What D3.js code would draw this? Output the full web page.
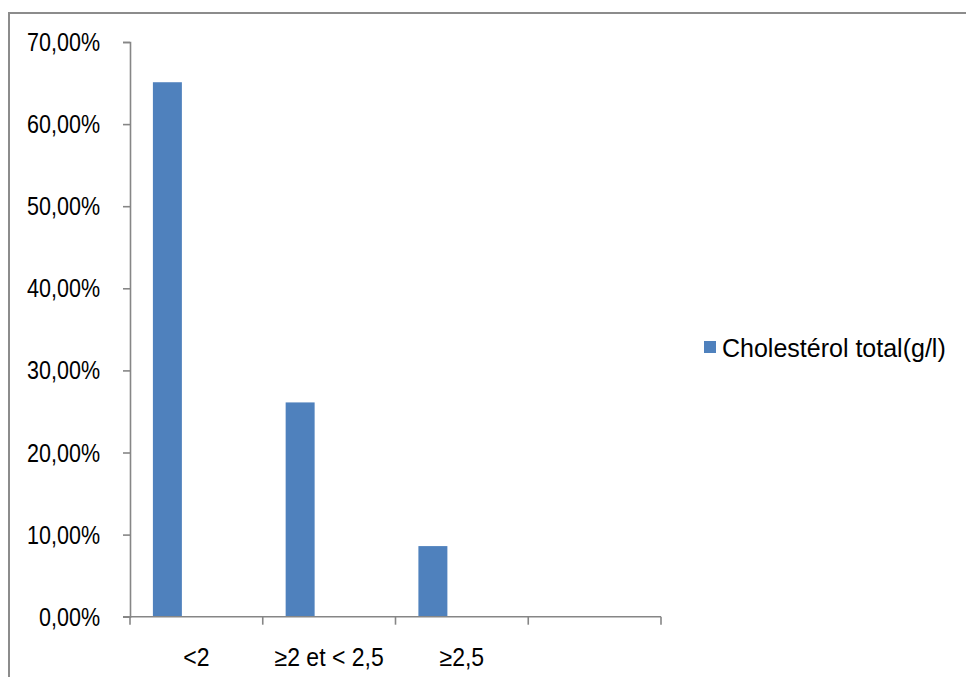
<!DOCTYPE html>
<html>
<head>
<meta charset="utf-8">
<script src="https://cdn.jsdelivr.net/npm/d3@7"></script>
<style>
  html, body { margin: 0; padding: 0; background: #fff; }
  svg { display: block; }
  text { font-family: "Liberation Sans", Arial, sans-serif; fill: #000; }
</style>
</head>
<body>
<svg id="chart" width="966" height="677"></svg>
<script>
// Distribution of total cholesterol (g/l), share of patients per class
const categories = ["<2", "≥2 et < 2,5", "≥2,5", ""];
const seriesName = "Cholestérol total(g/l)";
const values = [65.1, 26.1, 8.6, null];
const yTicks = [0, 10, 20, 30, 40, 50, 60, 70];
const seriesSlots = ["s1", "s2", "s3"];

const svg = d3.select("#chart");
const W = 966, H = 677;
const m = { left: 130, right: 305, top: 42, bottom: 59 };
const axisColor = "#868686";
const barColor = "#4F81BD";

// condense glyphs horizontally to get a narrow face
function condense(sel, factor) {
  sel.each(function () {
    const n = this.getComputedTextLength();
    if (n > 0) {
      d3.select(this).attr("textLength", n * factor).attr("lengthAdjust", "spacingAndGlyphs");
    }
  });
}

// outer frame
svg.append("rect")
  .attr("x", 9).attr("y", 13)
  .attr("width", W + 20).attr("height", H + 20)
  .attr("fill", "none").attr("stroke", "#8c8c8c").attr("stroke-width", 2);

const x = d3.scaleBand().domain(categories).range([m.left, W - m.right]).paddingInner(0).paddingOuter(0);
const inner = d3.scaleBand().domain(seriesSlots).range([0, x.bandwidth()]).paddingInner(0).paddingOuter(0.79);
const y = d3.scaleLinear().domain([0, 70]).range([H - m.bottom - 1.3, m.top]);

const fmt = v => d3.format(".2f")(v).replace(".", ",") + "%";

// y axis
const yAxis = svg.append("g")
  .attr("transform", `translate(${m.left},0)`)
  .call(d3.axisLeft(y).tickValues(yTicks).tickFormat(fmt).tickSizeOuter(0).tickSize(7).tickPadding(23));
yAxis.select(".domain").attr("stroke", axisColor).attr("stroke-width", 1.6);
yAxis.selectAll(".tick line").attr("stroke", axisColor).attr("stroke-width", 1.6);
yAxis.selectAll(".tick text")
  .attr("font-size", 25).attr("fill", "#000")
  .attr("font-family", "\"Liberation Sans\", Arial, sans-serif")
  .attr("dy", "0.34em");
condense(yAxis.selectAll(".tick text"), 0.86);

// bars
svg.append("g").selectAll("rect")
  .data(categories.map((c, i) => ({ c, v: values[i] })).filter(d => d.v != null))
  .join("rect")
  .attr("x", d => x(d.c) + inner("s1"))
  .attr("width", inner.bandwidth())
  .attr("y", d => y(d.v))
  .attr("height", d => y(0) - y(d.v))
  .attr("fill", barColor);

// x axis
const x0 = y(0);
const xg = svg.append("g");
xg.append("line")
  .attr("x1", m.left - 7).attr("x2", W - m.right)
  .attr("y1", x0).attr("y2", x0)
  .attr("stroke", axisColor).attr("stroke-width", 1.6);
const bounds = categories.map(c => x(c)).concat([x(categories[categories.length - 1]) + x.bandwidth()]);
xg.selectAll("line.tk").data(bounds).join("line").attr("class", "tk")
  .attr("x1", d => d).attr("x2", d => d)
  .attr("y1", x0).attr("y2", x0 + 8)
  .attr("stroke", axisColor).attr("stroke-width", 1.6);
const xl = xg.selectAll("text").data(categories).join("text")
  .attr("x", d => x(d) + x.bandwidth() / 2)
  .attr("y", 666)
  .attr("text-anchor", "middle")
  .attr("font-size", 25)
  .text(d => d);
condense(xl, 0.92);

// legend
const lg = svg.append("g").attr("transform", "translate(704,341)");
lg.append("rect").attr("width", 12).attr("height", 12).attr("fill", barColor);
const lt = lg.append("text").attr("x", 18).attr("y", 15.5).attr("font-size", 25).text(seriesName);
condense(lt, 1.0);
</script>
</body>
</html>
